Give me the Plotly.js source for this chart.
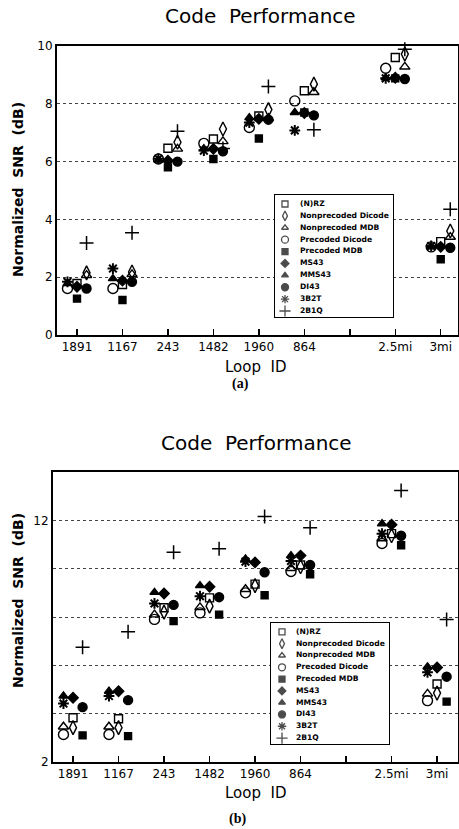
<!DOCTYPE html>
<html>
<head>
<meta charset="utf-8">
<script src="https://cdn.plot.ly/plotly-3.0.1.min.js"></script>
<style>html,body{margin:0;padding:0;background:#fff;}#chart{width:459px;height:829px;}</style>
</head>
<body>
<div id="chart"></div>
<script>
// ---------- data ----------
const categories = ['1891', '1167', '243', '1482', '1960', '864', '', '2.5mi', '3mi'];
const loops = ['1891', '1167', '243', '1482', '1960', '864', '2.5mi', '3mi'];
const seriesNames = ['(N)RZ', 'Nonprecoded Dicode', 'Nonprecoded MDB', 'Precoded Dicode',
  'Precoded MDB', 'MS43', 'MMS43', 'DI43', '3B2T', '2B1Q'];

// panel (a) values, one array per code, order = loops
const nrzA    = [1.78, 1.75, 6.46, 6.78, 7.58, 8.45, 9.60, 3.23];
const npDicA  = [2.15, 2.18, 6.67, 7.13, 7.80, 8.68, 9.72, 3.60];
const npMdbA  = [2.07, 2.10, 6.44, 6.70, 7.50, 8.40, 9.28, 3.39];
const pDicA   = [1.61, 1.61, 6.09, 6.63, 7.18, 8.10, 9.23, 3.05];
const pMdbA   = [1.26, 1.21, 5.80, 6.09, 6.80, 7.70, 8.88, 2.62];
const ms43A   = [1.67, 1.88, 6.03, 6.44, 7.48, 7.68, 8.90, 3.05];
const mms43A  = [1.78, 1.95, 6.05, 6.45, 7.52, 7.70, 8.90, 3.05];
const di43A   = [1.61, 1.84, 6.00, 6.36, 7.45, 7.60, 8.86, 3.02];
const t3b2tA  = [1.84, 2.30, 6.10, 6.38, 7.35, 7.08, 8.88, 3.08];
const q2b1qA  = [3.18, 3.54, 7.05, 6.45, 8.60, 7.10, 9.89, 4.35];

// panel (b) values
const nrzB    = [3.83, 3.79, 8.38, 8.79, 9.36, 10.15, 11.45, 5.23];
const npDicB  = [3.42, 3.42, 8.20, 8.45, 9.30, 10.08, 11.36, 4.85];
const npMdbB  = [3.46, 3.46, 8.10, 8.40, 9.15, 10.02, 11.25, 4.82];
const pDicB   = [3.14, 3.14, 7.90, 8.17, 9.00, 9.88, 11.04, 4.54];
const pMdbB   = [3.10, 3.07, 7.83, 8.10, 8.90, 9.77, 10.97, 4.50];
const ms43B   = [4.66, 4.93, 8.97, 9.25, 10.26, 10.54, 11.82, 5.91];
const mms43B  = [4.73, 4.93, 9.02, 9.30, 10.40, 10.54, 11.86, 5.94];
const di43B   = [4.27, 4.56, 8.50, 8.82, 9.85, 10.15, 11.36, 5.53];
const t3b2tB  = [4.42, 4.73, 8.56, 8.86, 10.29, 10.32, 11.45, 5.71];
const q2b1qB  = [6.75, 7.39, 10.68, 10.82, 12.16, 11.69, 13.23, 7.90];

const yTicksA = [0, 2, 4, 6, 8, 10];
const yTickTextA = ['0', '2', '4', '6', '8', '10'];
const yTicksB = [2, 4, 6, 8, 10, 12, 14];
const yTickTextB = ['2', '', '', '', '', '12', ''];

// ---------- styles ----------
const valuesA = [nrzA, npDicA, npMdbA, pDicA, pMdbA, ms43A, mms43A, di43A, t3b2tA, q2b1qA];
const valuesB = [nrzB, npDicB, npMdbB, pDicB, pMdbB, ms43B, mms43B, di43B, t3b2tB, q2b1qB];
const symbols = ['square-open', 'diamond-tall-open', 'triangle-up-open', 'circle-open', 'square',
  'diamond', 'triangle-up', 'circle', 'asterisk-open', 'cross-thin-open'];
const sizes = [8, 10, 9, 10, 7, 8, 8, 9, 9, 10];
const legSizes = [6, 7, 6, 7, 6, 6, 6, 7, 7, 8];
const colA = [0, 1, 1, -1, 0, 0, -1, 1, -1, 1];   // column within group
const colB = [0, 0, -1, -1, 1, 0, -1, 1, -1, 1];
const dx = 0.21;

const W = 459, H = 829;
const px = v => v / W;
const py = v => 1 - v / H;
const catPos = loops.map(l => categories.indexOf(l));
const FONT = 'DejaVu Sans, sans-serif';

function mk(i) {
  return {symbol: symbols[i], size: sizes[i], color: '#000',
          line: {color: '#000', width: symbols[i] === 'cross-thin-open' ? 1.5 : (symbols[i] === 'asterisk-open' ? 2 : 1.4)}};
}

const traces = [];
valuesA.forEach((vals, i) => {
  traces.push({type: 'scatter', mode: 'markers', xaxis: 'x', yaxis: 'y', name: seriesNames[i],
    x: catPos.map(p => p + colA[i] * dx), y: vals, marker: mk(i), showlegend: false, cliponaxis: false});
});
valuesB.forEach((vals, i) => {
  traces.push({type: 'scatter', mode: 'markers', xaxis: 'x2', yaxis: 'y2', name: seriesNames[i],
    x: catPos.map(p => p + colB[i] * dx), y: vals, marker: mk(i), showlegend: false, cliponaxis: false});
});

// custom legends (rows = series index)
[['x3', 'y3', 10, 25], ['x4', 'y4', 11, 25]].forEach(([xa, ya, mx, tx]) => {
  const rows = seriesNames.map((_, i) => i);
  traces.push({type: 'scatter', mode: 'markers', xaxis: xa, yaxis: ya, showlegend: false,
    x: rows.map(() => mx), y: rows,
    marker: {symbol: symbols, size: legSizes, color: '#000', line: {color: '#000', width: 1.3}}, cliponaxis: false});
  traces.push({type: 'scatter', mode: 'text', xaxis: xa, yaxis: ya, showlegend: false,
    x: rows.map(() => tx), y: rows, text: seriesNames, textposition: 'middle right',
    textfont: {family: FONT, size: 7.6, color: '#000', weight: 'bold'}, cliponaxis: false});
});

const xCommon = {
  range: [-0.44, 8.38], tickmode: 'array', tickvals: categories.map((_, i) => i), ticktext: categories,
  ticks: 'inside', ticklen: 6, tickwidth: 1.5, tickcolor: '#000',
  showline: true, linecolor: '#000', linewidth: 2, mirror: true, showgrid: false, zeroline: false,
  tickfont: {family: FONT, size: 12, color: '#000'}, fixedrange: true
};
const yCommon = {
  tickmode: 'array', ticks: '', showline: true, linecolor: '#000', linewidth: 2, mirror: true,
  showgrid: true, gridcolor: '#444', griddash: 'dot', gridwidth: 1, zeroline: false,
  tickfont: {family: FONT, size: 12, color: '#000'}, fixedrange: true
};
const legAx = {showline: true, linecolor: '#000', linewidth: 1.2, mirror: true, showgrid: false,
  zeroline: false, showticklabels: false, ticks: '', fixedrange: true};

const layout = {
  width: W, height: H, margin: {l: 0, r: 0, t: 0, b: 0},
  paper_bgcolor: '#fff', plot_bgcolor: 'rgba(0,0,0,0)', showlegend: false, hovermode: false,
  xaxis: Object.assign({}, xCommon, {domain: [px(57), px(458)], anchor: 'y'}),
  yaxis: Object.assign({}, yCommon, {domain: [py(335), py(46)], anchor: 'x', range: [0, 10],
    tickvals: yTicksA, ticktext: yTickTextA}),
  xaxis2: Object.assign({}, xCommon, {domain: [px(53), px(458)], anchor: 'y2', range: [-0.44, 8.46]}),
  yaxis2: Object.assign({}, yCommon, {domain: [py(762), py(472)], anchor: 'x2', range: [2, 14],
    tickvals: yTicksB, ticktext: yTickTextB}),
  xaxis3: Object.assign({}, legAx, {domain: [px(275), px(393)], anchor: 'y3', range: [0, 118]}),
  yaxis3: Object.assign({}, legAx, {domain: [py(317), py(195)], anchor: 'x3', range: [9.504, -0.756]}),
  xaxis4: Object.assign({}, legAx, {domain: [px(271), px(389)], anchor: 'y4', range: [0, 118]}),
  yaxis4: Object.assign({}, legAx, {domain: [py(744), py(623)], anchor: 'x4', range: [9.504, -0.756]}),
  shapes: [
    {type: 'rect', xref: 'x3', yref: 'y3', x0: 0, x1: 118, y0: -0.756, y1: 9.504, layer: 'below',
     fillcolor: '#fff', line: {width: 0}},
    {type: 'rect', xref: 'x4', yref: 'y4', x0: 0, x1: 118, y0: -0.756, y1: 9.504, layer: 'below',
     fillcolor: '#fff', line: {width: 0}}
  ],
  annotations: [
    {text: 'Code  Performance', x: px(260), y: py(16), xref: 'paper', yref: 'paper', showarrow: false,
     font: {family: FONT, size: 20, color: '#000'}, xanchor: 'center', yanchor: 'middle'},
    {text: 'Code  Performance', x: px(256), y: py(443), xref: 'paper', yref: 'paper', showarrow: false,
     font: {family: FONT, size: 20, color: '#000'}, xanchor: 'center', yanchor: 'middle'},
    {text: 'Loop  ID', x: px(255), y: py(367), xref: 'paper', yref: 'paper', showarrow: false,
     font: {family: FONT, size: 15, color: '#000'}, xanchor: 'center', yanchor: 'middle'},
    {text: 'Loop  ID', x: px(255), y: py(793), xref: 'paper', yref: 'paper', showarrow: false,
     font: {family: FONT, size: 15, color: '#000'}, xanchor: 'center', yanchor: 'middle'},
    {text: 'Normalized  SNR  (dB)', x: px(18), y: py(190), xref: 'paper', yref: 'paper', showarrow: false,
     textangle: -90, font: {family: FONT, size: 14, color: '#000', weight: 'bold'}, xanchor: 'center', yanchor: 'middle'},
    {text: 'Normalized  SNR  (dB)', x: px(18), y: py(601), xref: 'paper', yref: 'paper', showarrow: false,
     textangle: -90, font: {family: FONT, size: 14, color: '#000', weight: 'bold'}, xanchor: 'center', yanchor: 'middle'},
    {text: '<b>(a)</b>', x: px(241), y: py(384), xref: 'paper', yref: 'paper', showarrow: false,
     font: {family: 'Liberation Serif, serif', size: 14, color: '#000'}, xanchor: 'center', yanchor: 'middle'},
    {text: '<b>(b)</b>', x: px(237), y: py(819), xref: 'paper', yref: 'paper', showarrow: false,
     font: {family: 'Liberation Serif, serif', size: 14, color: '#000'}, xanchor: 'center', yanchor: 'middle'}
  ]
};

Plotly.newPlot('chart', traces, layout, {staticPlot: true, displayModeBar: false});
</script>
</body>
</html>
